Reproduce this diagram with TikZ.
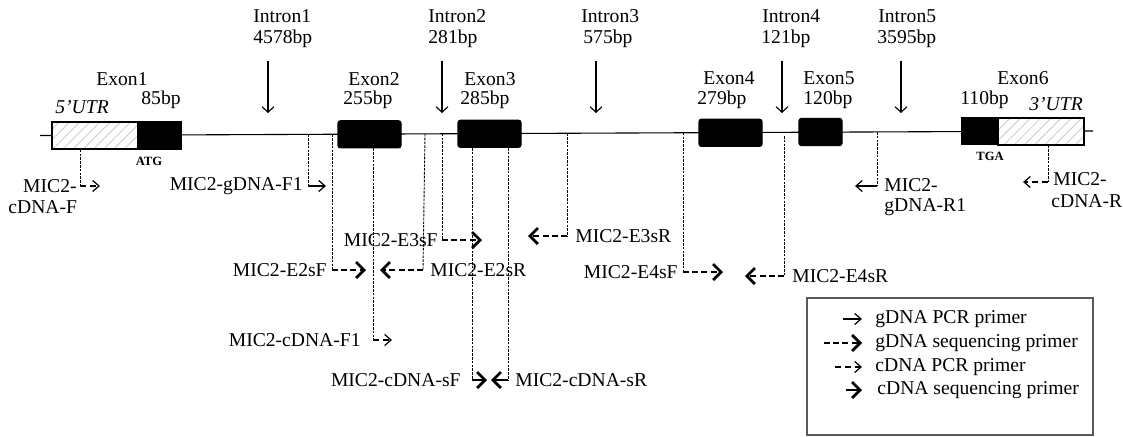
\documentclass[tikz,border=0pt]{standalone}
\usepackage{fontspec}
\setmainfont{Liberation Serif}
\usetikzlibrary{arrows.meta,patterns.meta}
\begin{document}
\begin{tikzpicture}[x=0.5pt,y=-0.5pt,
  lbl/.style={inner sep=0pt,font=\fontsize{9.8}{11}\selectfont},
  utrlbl/.style={lbl,font=\fontsize{9.8}{11}\selectfont\itshape},
  codon/.style={inner sep=0pt,font=\fontsize{6.3}{7}\selectfont\bfseries},
  exonbox/.style={fill=black,draw=black,line width=0.6pt,rounded corners=1.2pt,inner sep=0pt,minimum height=13.5pt},
  utrbox/.style={draw=black,line width=0.8pt,inner sep=0pt,minimum height=13.5pt,
     preaction={fill=white},
     preaction={pattern={Lines[angle=45,distance=3.6pt,line width=0.5pt]},pattern color=gray!35}},
  intronarrow/.style={line width=0.55pt,-{Straight Barb[length=2.8pt,width=6pt,line width=0.55pt]}},
  guide/.style={line width=0.45pt,dash pattern=on 1.3pt off 0.6pt},
  gpcr/.style={line width=0.55pt,-{Straight Barb[length=3.2pt,width=5.5pt,line width=0.6pt]}},
  gseq/.style={line width=1.35pt,dash pattern=on 3pt off 1.6pt,-{Straight Barb[length=4pt,width=8pt,line width=1.35pt]}},
  cpcr/.style={line width=0.55pt,dash pattern=on 3pt off 2pt,-{Straight Barb[length=3.2pt,width=5.5pt,line width=0.6pt]}},
  cseq/.style={line width=1.35pt,-{Straight Barb[length=4pt,width=8pt,line width=1.35pt]}},
  legendbox/.style={draw=black!65,line width=0.6pt}
]
\useasboundingbox (0,0) rectangle (1123,436);

% main gene line
\coordinate (L0) at (40,135.5);
\coordinate (L1) at (1093,131);
\draw[line width=0.55pt] (L0) -- (L1);

% exon boxes
\node[utrbox,minimum width=43pt] (u5) at (95,135.5) {};
\node[exonbox,minimum width=21.5pt,rounded corners=0pt] (e1) at (159.5,135.5) {};
\node[exonbox,minimum width=31.5pt] (e2) at (369.5,134.3) {};
\node[exonbox,minimum width=31.5pt] (e3) at (489.5,133.8) {};
\node[exonbox,minimum width=31.5pt] (e4) at (730.5,132.8) {};
\node[exonbox,minimum width=21.5pt] (e5) at (820.5,132.0) {};
\node[exonbox,minimum width=18pt,rounded corners=0pt] (e6) at (980,131.3) {};
\node[utrbox,minimum width=43pt] (u3) at (1041,131.2) {};

% codon labels
\node[codon] (atg) at (149,161) {ATG};
\node[codon] (tga) at (990,156) {TGA};

% exon labels
\node[lbl,anchor=west] (x1) at (96,79) {Exon1};
\node[lbl,anchor=west] (x1b) at (141,100) {85bp};
\node[utrlbl,anchor=west] (utr5) at (55,107) {5’UTR};
\node[lbl,anchor=west] (x2) at (348,79) {Exon2};
\node[lbl,anchor=west] (x2b) at (343,100) {255bp};
\node[lbl,anchor=west] (x3) at (464,79) {Exon3};
\node[lbl,anchor=west] (x3b) at (460,100) {285bp};
\node[lbl,anchor=west] (x4) at (703,78) {Exon4};
\node[lbl,anchor=west] (x4b) at (697,100) {279bp};
\node[lbl,anchor=west] (x5) at (803,78) {Exon5};
\node[lbl,anchor=west] (x5b) at (803,100) {120bp};
\node[lbl,anchor=west] (x6) at (997,78) {Exon6};
\node[lbl,anchor=west] (x6b) at (960,100) {110bp};
\node[utrlbl,anchor=west] (utr3) at (1029,104) {3’UTR};

% intron labels and arrows
\node[lbl,anchor=west] (i1) at (253,16) {Intron1};
\node[lbl,anchor=west] (i1b) at (253,39) {4578bp};
\node[lbl,anchor=west] (i2) at (428,16) {Intron2};
\node[lbl,anchor=west] (i2b) at (428,39) {281bp};
\node[lbl,anchor=west] (i3) at (581,16) {Intron3};
\node[lbl,anchor=west] (i3b) at (583,39) {575bp};
\node[lbl,anchor=west] (i4) at (762,16) {Intron4};
\node[lbl,anchor=west] (i4b) at (761,39) {121bp};
\node[lbl,anchor=west] (i5) at (878,16) {Intron5};
\node[lbl,anchor=west] (i5b) at (877,39) {3595bp};
\coordinate (a1t) at (268,61); \coordinate (a1b) at (268,113);
\coordinate (a2t) at (442,61); \coordinate (a2b) at (442,113);
\coordinate (a3t) at (596,61); \coordinate (a3b) at (596,113);
\coordinate (a4t) at (782,61); \coordinate (a4b) at (782,113);
\coordinate (a5t) at (901,61); \coordinate (a5b) at (901,113);
\foreach \a in {1,...,5} {\draw[intronarrow] (a\a t) -- (a\a b);}

% primer: MIC2-cDNA-F
\coordinate (cFc) at (80,186); \coordinate (cFt) at (100,186);
\draw[guide] (u5.south -| cFc) -- (cFc);
\draw[cpcr] (cFc) -- (cFt);
\node[lbl,anchor=east] (cFl1) at (77,186) {MIC2-};
\node[lbl,anchor=west] (cFl2) at (8,207) {cDNA-F};

% primer: MIC2-gDNA-F1
\coordinate (gF1s) at (308,134.4); \coordinate (gF1c) at (308,186); \coordinate (gF1t) at (326,186);
\draw[guide] (gF1s) -- (gF1c);
\draw[gpcr] (gF1c) -- (gF1t);
\node[lbl,anchor=east] (gF1l) at (303,186) {MIC2-gDNA-F1};

% primer: MIC2-E2sF
\coordinate (E2Fs) at (332,134.3); \coordinate (E2Fc) at (332,270); \coordinate (E2Ft) at (366,270);
\draw[guide] (E2Fs) -- (E2Fc);
\draw[gseq] (E2Fc) -- (E2Ft);
\node[lbl,anchor=east] (E2Fl) at (327,270) {MIC2-E2sF};

% primer: MIC2-E2sR
\coordinate (E2Rs) at (425,133.9); \coordinate (E2Rc) at (423,270); \coordinate (E2Rt) at (380,270);
\draw[guide] (E2Rs) -- (E2Rc);
\draw[gseq] (E2Rc) -- (E2Rt);
\node[lbl,anchor=west] (E2Rl) at (430,270) {MIC2-E2sR};

% primer: MIC2-cDNA-F1
\coordinate (cF1c) at (373,340); \coordinate (cF1t) at (392,340);
\draw[guide] (e2.south -| cF1c) -- (cF1c);
\draw[cpcr] (cF1c) -- (cF1t);
\node[lbl,anchor=east] (cF1l) at (361,340) {MIC2-cDNA-F1};

% primer: MIC2-E3sF
\coordinate (E3Fs) at (442,133.8); \coordinate (E3Fc) at (442,240); \coordinate (E3Ft) at (482,240);
\draw[guide] (E3Fs) -- (E3Fc);
\draw[gseq] (E3Fc) -- (E3Ft);
\node[lbl,anchor=east] (E3Fl) at (438,240) {MIC2-E3sF};

% primer: MIC2-E3sR
\coordinate (E3Rs) at (567,133.3); \coordinate (E3Rc) at (567,236); \coordinate (E3Rt) at (528,236);
\draw[guide] (E3Rs) -- (E3Rc);
\draw[gseq] (E3Rc) -- (E3Rt);
\node[lbl,anchor=west] (E3Rl) at (575,236) {MIC2-E3sR};

% primer: MIC2-cDNA-sF
\coordinate (csFc) at (472,380); \coordinate (csFt) at (487,380);
\draw[guide] (e3.south -| csFc) -- (csFc);
\draw[cseq] (csFc) -- (csFt);
\node[lbl,anchor=east] (csFl) at (461,380) {MIC2-cDNA-sF};

% primer: MIC2-cDNA-sR
\coordinate (csRc) at (508,380); \coordinate (csRt) at (491,380);
\draw[guide] (e3.south -| csRc) -- (csRc);
\draw[cseq] (csRc) -- (csRt);
\node[lbl,anchor=west] (csRl) at (515,380) {MIC2-cDNA-sR};

% primer: MIC2-E4sF
\coordinate (E4Fs) at (683,132.8); \coordinate (E4Fc) at (683,272); \coordinate (E4Ft) at (723,272);
\draw[guide] (E4Fs) -- (E4Fc);
\draw[gseq] (E4Fc) -- (E4Ft);
\node[lbl,anchor=east] (E4Fl) at (678,272) {MIC2-E4sF};

% primer: MIC2-E4sR
\coordinate (E4Rs) at (784,136); \coordinate (E4Rc) at (784,276); \coordinate (E4Rt) at (745,276);
\draw[guide] (E4Rs) -- (E4Rc);
\draw[gseq] (E4Rc) -- (E4Rt);
\node[lbl,anchor=west] (E4Rl) at (792,276) {MIC2-E4sR};

% primer: MIC2-gDNA-R1
\coordinate (gR1s) at (877,131.9); \coordinate (gR1c) at (877,186); \coordinate (gR1t) at (855,186);
\draw[guide] (gR1s) -- (gR1c);
\draw[gpcr] (gR1c) -- (gR1t);
\node[lbl,anchor=west] (gR1l1) at (884,185) {MIC2-};
\node[lbl,anchor=west] (gR1l2) at (884,207) {gDNA-R1};

% primer: MIC2-cDNA-R
\coordinate (cRc) at (1048,182); \coordinate (cRt) at (1023,182);
\draw[guide] (u3.south -| cRc) -- (cRc);
\draw[cpcr] (cRc) -- (cRt);
\node[lbl,anchor=west] (cRl1) at (1053,179) {MIC2-};
\node[lbl,anchor=west] (cRl2) at (1051,201) {cDNA-R};

% legend
\node[legendbox,minimum width=143pt,minimum height=68.5pt,inner sep=0pt] (leg) at (950,366.5) {};
\coordinate (g1s) at (843,319); \coordinate (g1t) at (862,319);
\coordinate (g2s) at (824,343); \coordinate (g2t) at (862,343);
\coordinate (g3s) at (835,367); \coordinate (g3t) at (862,367);
\coordinate (g4s) at (846,390); \coordinate (g4t) at (862,390);
\draw[gpcr] (g1s) -- (g1t);
\draw[gseq] (g2s) -- (g2t);
\draw[cpcr] (g3s) -- (g3t);
\draw[cseq] (g4s) -- (g4t);
\node[lbl,anchor=west] (t1) at (875,319) {gDNA PCR primer};
\node[lbl,anchor=west] (t2) at (875,343) {gDNA sequencing primer};
\node[lbl,anchor=west] (t3) at (875,367) {cDNA PCR primer};
\node[lbl,anchor=west] (t4) at (877,390) {cDNA sequencing primer};
\end{tikzpicture}
\end{document}
